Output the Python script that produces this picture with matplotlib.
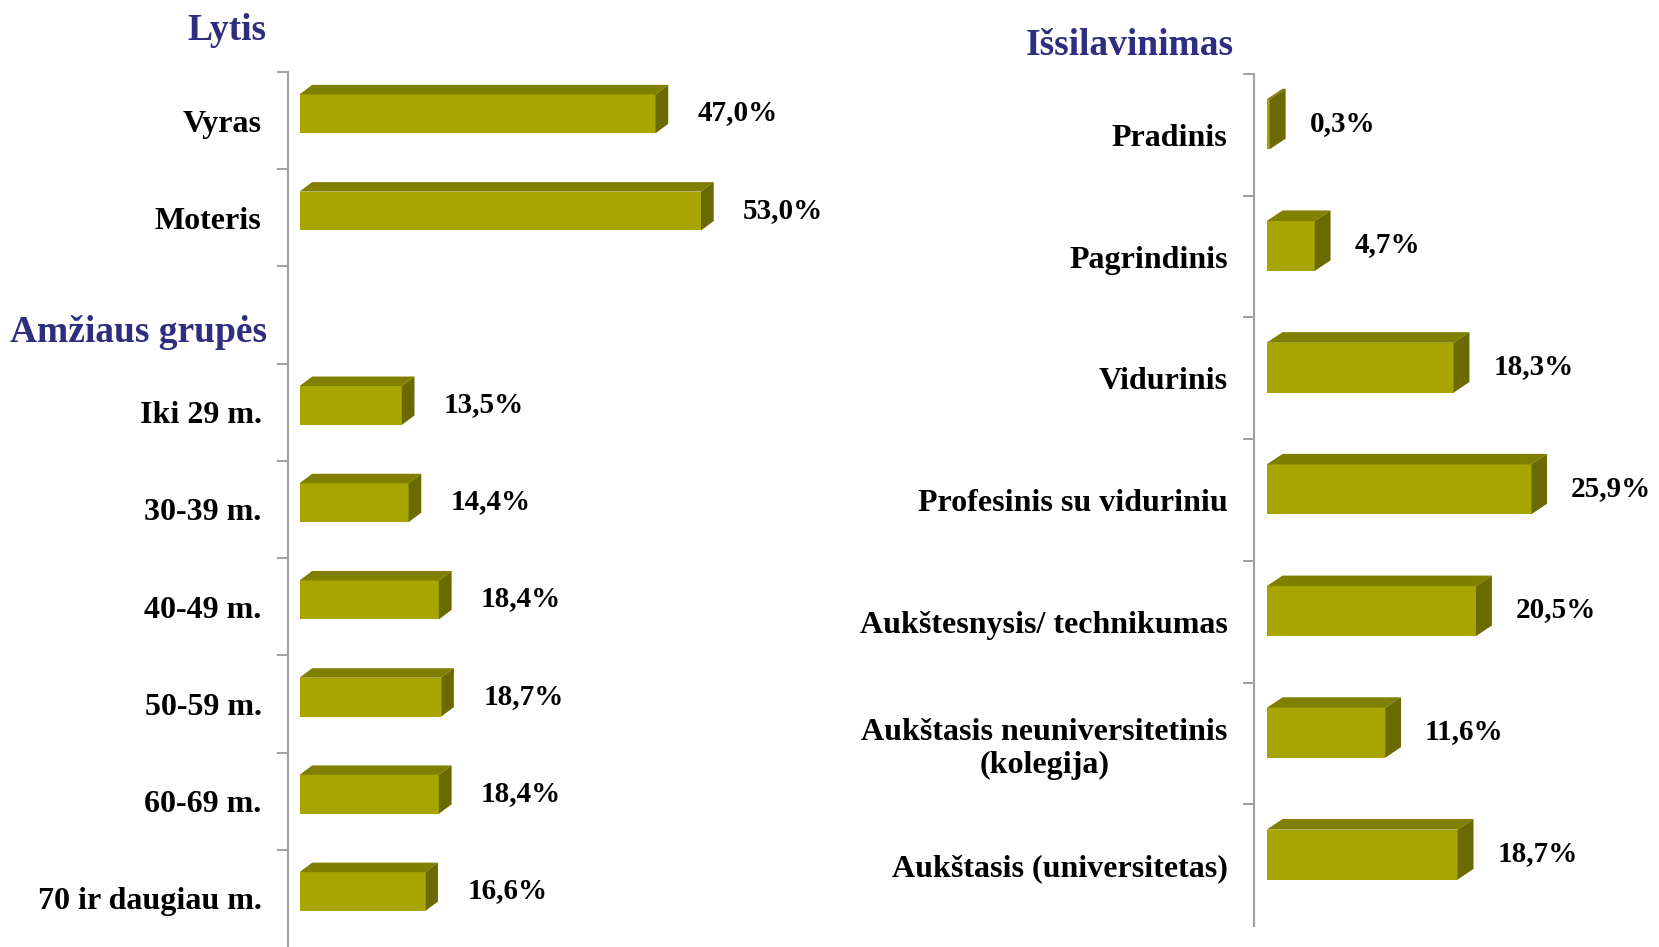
import matplotlib
matplotlib.use("Agg")
import matplotlib.pyplot as plt
from matplotlib.patches import Polygon, Rectangle

# ─────────────────────────────────────────────
# Data
# ─────────────────────────────────────────────
gender_labels = ["Vyras", "Moteris"]
gender_values = [47.0, 53.0]

age_labels = ["Iki 29 m.", "30-39 m.", "40-49 m.", "50-59 m.", "60-69 m.", "70 ir daugiau m."]
age_values = [13.5, 14.4, 18.4, 18.7, 18.4, 16.6]

edu_labels = ["Pradinis", "Pagrindinis", "Vidurinis", "Profesinis su viduriniu",
              "Aukštesnysis/ technikumas", "Aukštasis neuniversitetinis\n(kolegija)",
              "Aukštasis (universitetas)"]
edu_values = [0.3, 4.7, 18.3, 25.9, 20.5, 11.6, 18.7]

# ─────────────────────────────────────────────
# Style
# ─────────────────────────────────────────────
W, H, DPI = 1659, 947, 100
FRONT = "#A8A400"
TOP = "#807F00"
SIDE = "#6A6A00"
TITLE_C = "#2D2E80"
AXIS_C = "#A0A0A0"
plt.rcParams["font.family"] = ["Liberation Serif", "DejaVu Serif"]
plt.rcParams["font.weight"] = "bold"


def make_axes(fig, left, right, top, bottom):
    """Axes placed by pixel box."""
    return fig.add_axes([left / W, 1 - bottom / H, (right - left) / W, (bottom - top) / H])


def draw_panel(ax, labels, values, slots, n_slots, xlim, depth_px, half, shift, lab_off_px):
    ax.set_xlim(*xlim)
    ax.set_ylim(n_slots - 0.5, -0.5)
    bbox = ax.get_position()
    ppx = bbox.width * W / (xlim[1] - xlim[0])
    ppy = bbox.height * H / n_slots
    dx = depth_px[0] / ppx
    dy = depth_px[1] / ppy

    for lab, v, s in zip(labels, values, slots):
        c = s + shift
        y0, y1 = c - half, c + half  # y0 is top (axis inverted)
        ax.add_patch(Rectangle((0, y0), v, 2 * half, facecolor=FRONT, edgecolor="none", zorder=3))
        ax.add_patch(Polygon([(0, y0), (dx, y0 - dy), (v + dx, y0 - dy), (v, y0)],
                             closed=True, facecolor=TOP, edgecolor="none", zorder=3))
        ax.add_patch(Polygon([(v, y0), (v + dx, y0 - dy), (v + dx, y1 - dy), (v, y1)],
                             closed=True, facecolor=SIDE, edgecolor="none", zorder=3))
        ax.text(v + lab_off_px / ppx, c - 0.01, f"{v:.1f}%".replace(".", ","),
                ha="left", va="center", fontsize=21, fontweight="bold", clip_on=False)

    ax.set_yticks(slots)
    ax.set_yticklabels(labels, fontsize=23, fontweight="bold", multialignment="center")
    ax.set_yticks([i - 0.5 for i in range(n_slots)], minor=True)
    ax.tick_params(axis="y", which="major", length=0, pad=19)
    ax.tick_params(axis="y", which="minor", length=7.6, width=1.4, color=AXIS_C)
    ax.set_xticks([])
    for side in ["top", "right", "bottom"]:
        ax.spines[side].set_visible(False)
    ax.spines["left"].set_color(AXIS_C)
    ax.spines["left"].set_linewidth(1.5)
    ax.patch.set_visible(False)


fig = plt.figure(figsize=(W / DPI, H / DPI), dpi=DPI)

# left panel: gender + age groups share one axis, slot 2 is empty
ax_l = make_axes(fig, 288, 900, 72, 947)
left_labels = gender_labels + age_labels
left_values = gender_values + age_values
left_slots = [0, 1] + [3 + i for i in range(len(age_labels))]
draw_panel(ax_l, left_labels, left_values, left_slots, 9, (-1.52, 79.27),
           (12.7, 9.5), 0.2, -0.07, 42)

# right panel: education
ax_r = make_axes(fig, 1254, 1659, 74, 926)
draw_panel(ax_r, edu_labels, edu_values, list(range(len(edu_labels))), 7, (-1.24, 38.42),
           (15.9, 10.6), 0.205, -0.087, 40)

# section titles
fig.text(266.6 / W, 1 - 30 / H, "Lytis", ha="right", va="center",
         fontsize=27, fontweight="bold", color=TITLE_C)
fig.text(266.6 / W, 1 - 332.5 / H, "Amžiaus grupės", ha="right", va="center",
         fontsize=27, fontweight="bold", color=TITLE_C)
fig.text(1233.6 / W, 1 - 45.5 / H, "Išsilavinimas", ha="right", va="center",
         fontsize=27, fontweight="bold", color=TITLE_C)

fig.savefig("out.png", dpi=DPI)
